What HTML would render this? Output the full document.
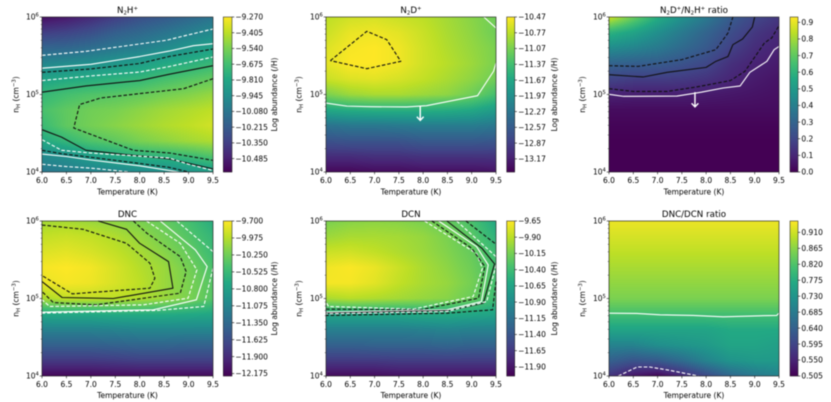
<!DOCTYPE html>
<html lang="en">
<head>
<meta charset="utf-8">
<title>Abundance maps</title>
<style>
html,body{margin:0;padding:0;background:#fff;width:831px;height:402px;overflow:hidden}
#figure{position:absolute;left:0;top:0;width:831px;height:402px;filter:blur(0.4px)}
canvas{position:absolute;display:block}
svg{position:absolute;left:0;top:0}
text{font-family:"DejaVu Sans","Liberation Sans",sans-serif;fill:#000}
.ttl{font-size:8.7px;text-anchor:middle}
.axl{font-size:7.5px;text-anchor:middle}
.sub{font-size:5.4px}
</style>
</head>
<body>
<div id="figure">
<canvas id="map-n2hp" width="171" height="155" style="left:42px;top:17px"></canvas>
<canvas id="map-n2dp" width="170" height="155" style="left:326px;top:17px"></canvas>
<canvas id="map-n2ratio" width="170" height="155" style="left:609px;top:17px"></canvas>
<canvas id="map-dnc" width="171" height="155" style="left:42px;top:221px"></canvas>
<canvas id="map-dcn" width="170" height="155" style="left:326px;top:221px"></canvas>
<canvas id="map-dratio" width="170" height="155" style="left:609px;top:221px"></canvas>
<svg id="overlay" width="831" height="402" viewBox="0 0 831 402" xmlns="http://www.w3.org/2000/svg">
  <text class="ttl" x="127.5" y="13">N<tspan class="sub" dy="1.6">2</tspan><tspan dy="-1.6">H</tspan><tspan class="sub" dy="-3">+</tspan></text>
  <text class="ttl" x="411" y="13">N<tspan class="sub" dy="1.6">2</tspan><tspan dy="-1.6">D</tspan><tspan class="sub" dy="-3">+</tspan></text>
  <text class="ttl" x="694" y="13">N<tspan class="sub" dy="1.6">2</tspan><tspan dy="-1.6">D</tspan><tspan class="sub" dy="-3">+</tspan><tspan dy="3">/N</tspan><tspan class="sub" dy="1.6">2</tspan><tspan dy="-1.6">H</tspan><tspan class="sub" dy="-3">+</tspan><tspan dy="3"> ratio</tspan></text>
  <text class="ttl" x="127.5" y="217">DNC</text>
  <text class="ttl" x="411" y="217">DCN</text>
  <text class="ttl" x="694" y="217">DNC/DCN ratio</text>

  <text class="axl" x="127.5" y="194.5">Temperature (K)</text>
  <text class="axl" x="411" y="194.5">Temperature (K)</text>
  <text class="axl" x="694" y="194.5">Temperature (K)</text>
  <text class="axl" x="127.5" y="398">Temperature (K)</text>
  <text class="axl" x="411" y="398">Temperature (K)</text>
  <text class="axl" x="694" y="398">Temperature (K)</text>

  <text class="axl" transform="translate(18.5 94.5) rotate(-90)">n<tspan class="sub" dy="1.5">H</tspan><tspan dy="-1.5"> (cm</tspan><tspan class="sub" dy="-2.8">−3</tspan><tspan dy="2.8">)</tspan></text>
  <text class="axl" transform="translate(301.5 94.5) rotate(-90)">n<tspan class="sub" dy="1.5">H</tspan><tspan dy="-1.5"> (cm</tspan><tspan class="sub" dy="-2.8">−3</tspan><tspan dy="2.8">)</tspan></text>
  <text class="axl" transform="translate(585 94.5) rotate(-90)">n<tspan class="sub" dy="1.5">H</tspan><tspan dy="-1.5"> (cm</tspan><tspan class="sub" dy="-2.8">−3</tspan><tspan dy="2.8">)</tspan></text>
  <text class="axl" transform="translate(18.5 298.5) rotate(-90)">n<tspan class="sub" dy="1.5">H</tspan><tspan dy="-1.5"> (cm</tspan><tspan class="sub" dy="-2.8">−3</tspan><tspan dy="2.8">)</tspan></text>
  <text class="axl" transform="translate(301.5 298.5) rotate(-90)">n<tspan class="sub" dy="1.5">H</tspan><tspan dy="-1.5"> (cm</tspan><tspan class="sub" dy="-2.8">−3</tspan><tspan dy="2.8">)</tspan></text>
  <text class="axl" transform="translate(585 298.5) rotate(-90)">n<tspan class="sub" dy="1.5">H</tspan><tspan dy="-1.5"> (cm</tspan><tspan class="sub" dy="-2.8">−3</tspan><tspan dy="2.8">)</tspan></text>

  <text class="axl" transform="translate(277 94.5) rotate(-90)">Log abundance (/H)</text>
  <text class="axl" transform="translate(557 94.5) rotate(-90)">Log abundance (/H)</text>
  <text class="axl" transform="translate(277 298.5) rotate(-90)">Log abundance (/H)</text>
  <text class="axl" transform="translate(557 298.5) rotate(-90)">Log abundance (/H)</text>
</svg>
</div>
<script>
// ---- shared axis data ----
const temperatureGrid = [6, 6.5, 7, 7.5, 8, 8.5, 9, 9.5];
const logDensityGrid = [6, 5.8, 5.6, 5.4, 5.2, 5, 4.8, 4.6, 4.4, 4.2, 4];
const xTickValues = [6, 6.5, 7, 7.5, 8, 8.5, 9, 9.5];
const xTickLabels = ['6.0', '6.5', '7.0', '7.5', '8.0', '8.5', '9.0', '9.5'];
const yTickDecades = [4, 5, 6];

// ---- N2H+ ----
const n2hpRange = [-10.6, -9.27];
const n2hpCbarTicks = [-9.27, -9.405, -9.54, -9.675, -9.81, -9.945, -10.08, -10.215, -10.35, -10.485];
const n2hpValues = [
  [-10.55, -10.51, -10.44, -10.36, -10.28, -10.23, -10.16, -10.09],
  [-10.36, -10.33, -10.28, -10.20, -10.15, -10.09, -10.03, -9.97],
  [-10.17, -10.16, -10.12, -10.07, -10.03, -9.97, -9.90, -9.84],
  [-9.99, -9.96, -9.94, -9.90, -9.86, -9.80, -9.76, -9.71],
  [-9.83, -9.80, -9.78, -9.75, -9.72, -9.67, -9.63, -9.59],
  [-9.72, -9.67, -9.64, -9.62, -9.59, -9.55, -9.52, -9.48],
  [-9.66, -9.60, -9.56, -9.54, -9.50, -9.46, -9.43, -9.40],
  [-9.70, -9.60, -9.55, -9.51, -9.47, -9.43, -9.40, -9.36],
  [-9.80, -9.72, -9.64, -9.60, -9.54, -9.50, -9.46, -9.43],
  [-9.97, -9.94, -9.86, -9.80, -9.76, -9.74, -9.70, -9.64],
  [-10.07, -10.04, -10.01, -9.99, -9.96, -9.94, -9.91, -9.87]
];
const n2hpLineA = [[6, 5.505], [6.9, 5.557], [8.55, 5.7], [9, 5.77], [9.5, 5.845]];
const n2hpLineB = [[6, 5.34], [7, 5.39], [8, 5.49], [8.6, 5.56], [9.1, 5.63], [9.5, 5.656]];
const n2hpLineC = [[6, 5.286], [7, 5.33], [8, 5.4], [8.6, 5.49], [9.5, 5.587]];
const n2hpLineD = [[6, 5.18], [7, 5.24], [8, 5.29], [8.6, 5.36], [9.5, 5.484]];
const n2hpLineE = [[6, 5.03], [6.9, 5.11], [8, 5.18], [8.6, 5.26], [9.5, 5.372]];
const n2hpLineF = [[9.5, 5.204], [8.9, 5.075], [7.2, 4.955], [6.77, 4.87], [6.65, 4.568], [7.87, 4.28], [8.62, 4.245], [9.5, 4.15]];
const n2hpLineG = [[6, 4.546], [6.4, 4.45], [6.9, 4.28], [7.8, 4.22], [8.6, 4.17], [9.5, 4.04]];
const n2hpLineH = [[6, 4.417], [6.4, 4.28], [7, 4.245], [8.6, 4.18], [9, 4.1], [9.5, 4.02]];
const n2hpLineI = [[6, 4.28], [6.4, 4.236], [7, 4.19], [8, 4.11], [8.6, 4.06], [9, 4]];
const n2hpLineJ = [[6, 4.232], [6.5, 4.2], [7, 4.155], [8, 4.08], [8.8, 4]];
const n2hpLineK = [[6, 4.1], [6.5, 4.07], [7, 4.05], [7.8, 4]];

// ---- N2D+ ----
const n2dpRange = [-13.42, -10.47];
const n2dpCbarTicks = [-10.47, -10.77, -11.07, -11.37, -11.67, -11.97, -12.27, -12.57, -12.87, -13.17];
const n2dpValues = [
  [-10.77, -10.68, -10.65, -10.71, -10.77, -10.88, -11.00, -11.12],
  [-10.71, -10.56, -10.53, -10.59, -10.71, -10.85, -10.97, -11.12],
  [-10.62, -10.50, -10.47, -10.53, -10.68, -10.82, -10.94, -11.06],
  [-10.59, -10.47, -10.47, -10.53, -10.68, -10.79, -10.91, -11.06],
  [-10.71, -10.62, -10.59, -10.65, -10.74, -10.85, -10.97, -11.12],
  [-11.06, -10.91, -10.85, -10.85, -10.91, -10.97, -11.12, -11.36],
  [-11.65, -11.59, -11.56, -11.56, -11.56, -11.59, -11.65, -11.80],
  [-12.30, -12.24, -12.24, -12.21, -12.18, -12.18, -12.18, -12.24],
  [-12.68, -12.65, -12.65, -12.65, -12.59, -12.59, -12.59, -12.62],
  [-13.04, -13.04, -13.01, -13.01, -12.98, -12.98, -12.98, -12.98],
  [-13.36, -13.36, -13.33, -13.33, -13.30, -13.30, -13.30, -13.27]
];
const n2dpLineA = [[6.09, 5.437], [6.84, 5.815], [7.25, 5.708], [7.54, 5.428], [6.84, 5.333], [6.09, 5.437]];
const n2dpLineB = [[6, 4.89], [6.43, 4.85], [6.91, 4.843], [7.66, 4.839], [8.07, 4.856], [9.12, 4.985], [9.45, 5.3], [9.5, 5.406]];
const n2dpLineC = [[9.25, 6], [9.5, 5.858]];
const n2dpArrow = [[7.94, 4.847], [7.94, 4.667]];

// ---- N2D+/N2H+ ratio ----
const n2ratioRange = [0, 0.932];
const n2ratioCbarTicks = [0, 0.1, 0.2, 0.3, 0.4, 0.5, 0.6, 0.7, 0.8, 0.9];
const n2ratioValues = [
  [0.87, 0.72, 0.58, 0.47, 0.38, 0.27, 0.20, 0.15],
  [0.60, 0.54, 0.46, 0.38, 0.30, 0.22, 0.15, 0.11],
  [0.45, 0.42, 0.38, 0.32, 0.26, 0.18, 0.12, 0.09],
  [0.30, 0.28, 0.27, 0.24, 0.20, 0.13, 0.09, 0.07],
  [0.19, 0.17, 0.17, 0.16, 0.14, 0.10, 0.07, 0.05],
  [0.09, 0.08, 0.08, 0.08, 0.07, 0.06, 0.05, 0.04],
  [0.03, 0.03, 0.03, 0.03, 0.03, 0.03, 0.03, 0.03],
  [0.01, 0.01, 0.01, 0.01, 0.01, 0.01, 0.01, 0.01],
  [0, 0, 0, 0, 0, 0, 0, 0],
  [0, 0, 0, 0, 0, 0, 0, 0],
  [0, 0, 0, 0, 0, 0, 0, 0]
];
const n2ratioLineA = [[6, 5.002], [6.3, 4.976], [7.4, 4.98], [7.9, 5.03], [8.35, 5.084], [8.7, 5.11], [8.9, 5.286], [9.25, 5.428], [9.4, 5.578], [9.5, 5.62]];
const n2ratioLineB = [[6, 5.075], [6.5, 5.04], [7.2, 5.04], [7.8, 5.097], [8.5, 5.18], [8.8, 5.3], [9.2, 5.665], [9.35, 5.73], [9.5, 5.888]];
const n2ratioLineC = [[6, 5.256], [6.7, 5.226], [7.2, 5.286], [8, 5.35], [8.2, 5.428], [8.45, 5.49], [8.55, 5.643], [8.75, 5.716], [8.95, 5.87], [9, 6]];
const n2ratioLineD = [[6, 5.372], [6.6, 5.363], [7.5, 5.45], [8.2, 5.578], [8.45, 5.794], [8.55, 6]];
const n2ratioArrow = [[7.77, 5.03], [7.77, 4.84]];

// ---- DNC ----
const dncRange = [-12.215, -9.7];
const dncCbarTicks = [-9.7, -9.975, -10.25, -10.525, -10.8, -11.075, -11.35, -11.625, -11.9, -12.175];
const dncValues = [
  [-10.05, -10.03, -10.08, -10.13, -10.20, -10.30, -10.45, -10.66],
  [-9.93, -9.90, -9.93, -10.00, -10.10, -10.23, -10.38, -10.56],
  [-9.83, -9.80, -9.85, -9.93, -10.03, -10.15, -10.30, -10.51],
  [-9.73, -9.70, -9.74, -9.85, -9.98, -10.08, -10.23, -10.43],
  [-9.78, -9.73, -9.76, -9.85, -9.95, -10.08, -10.20, -10.38],
  [-10.03, -9.93, -9.93, -9.95, -10.00, -10.08, -10.20, -10.38],
  [-10.71, -10.69, -10.69, -10.66, -10.66, -10.66, -10.69, -10.71],
  [-11.11, -11.11, -11.11, -11.09, -11.06, -11.06, -11.06, -11.06],
  [-11.44, -11.44, -11.44, -11.42, -11.39, -11.39, -11.42, -11.42],
  [-11.79, -11.79, -11.79, -11.77, -11.74, -11.74, -11.74, -11.74],
  [-12.17, -12.17, -12.17, -12.15, -12.15, -12.15, -12.15, -12.15]
];
const dncLineA = [[6, 5.948], [6.84, 5.893], [7.73, 5.712], [8.21, 5.455], [8.31, 5.262], [8.21, 5.133], [6.62, 5.06], [6, 5.296]];
const dncLineB = [[7.15, 6], [7.73, 5.893], [8, 5.712], [8.59, 5.476], [8.68, 5.133], [7.46, 5], [6.41, 5.013], [6, 5.219]];
const dncLineC = [[7.87, 6], [8.15, 5.841], [8.83, 5.54], [8.95, 5.348], [8.83, 5.069], [7.1, 4.918], [6.23, 4.948], [6, 5.09]];
const dncLineD = [[8.14, 6], [8.83, 5.712], [9.17, 5.369], [8.99, 5.004], [8.07, 4.918], [6.16, 4.897], [6, 4.983]];
const dncLineE = [[8.42, 6], [9.14, 5.627], [9.38, 5.412], [9.16, 4.983], [8.28, 4.854], [6, 4.824]];
const dncLineF = [[8.76, 6], [9.5, 5.605]];
const dncLineG = [[9.5, 5.39], [9.31, 4.897], [8.35, 4.846], [6, 4.811]];

// ---- DCN ----
const dcnRange = [-12.04, -9.65];
const dcnCbarTicks = [-9.65, -9.9, -10.15, -10.4, -10.65, -10.9, -11.15, -11.4, -11.65, -11.9];
const dcnValues = [
  [-10.13, -10.08, -10.06, -10.08, -10.13, -10.22, -10.34, -10.61],
  [-10.01, -9.96, -9.96, -9.98, -10.03, -10.13, -10.27, -10.51],
  [-9.84, -9.82, -9.87, -9.94, -10.01, -10.10, -10.22, -10.41],
  [-9.70, -9.66, -9.72, -9.84, -9.96, -10.06, -10.18, -10.37],
  [-9.68, -9.68, -9.75, -9.87, -9.96, -10.03, -10.15, -10.37],
  [-9.96, -9.91, -9.94, -9.98, -10.03, -10.08, -10.20, -10.41],
  [-10.61, -10.61, -10.61, -10.61, -10.58, -10.58, -10.61, -10.65],
  [-11.01, -11.01, -11.01, -11.01, -10.99, -10.96, -10.99, -10.99],
  [-11.30, -11.30, -11.28, -11.28, -11.28, -11.25, -11.28, -11.28],
  [-11.63, -11.63, -11.63, -11.61, -11.61, -11.61, -11.61, -11.61],
  [-11.97, -11.97, -11.97, -11.94, -11.94, -11.94, -11.94, -11.94]
];
const dcnLineA = [[8.03, 6], [9.1, 5.58], [9.22, 5.39], [9.03, 5.026], [7.8, 4.863], [6.05, 4.897], [6, 4.961]];
const dcnLineB = [[8.18, 6], [9, 5.648], [9.27, 5.412], [9.14, 5.004], [7.94, 4.854], [6, 4.863]];
const dcnLineC = [[8.32, 6], [9.1, 5.67], [9.34, 5.433], [9.2, 4.961], [8.49, 4.854], [6, 4.824]];
const dcnLineD = [[8.49, 6], [9.21, 5.648], [9.47, 5.446], [9.24, 4.94], [8.55, 4.845], [6, 4.811]];
const dcnLineE = [[8.69, 6], [9.5, 5.54]];
const dcnLineF = [[9.5, 5.433], [9.31, 4.961], [8.49, 4.833], [6, 4.803]];
const dcnLineG = [[8.88, 6], [9.5, 5.7]];
const dcnLineH = [[9.5, 5.219], [9.43, 4.854], [8.49, 4.811], [6, 4.781]];

// ---- DNC/DCN ratio ----
const dratioRange = [0.505, 0.942];
const dratioCbarTicks = [0.505, 0.55, 0.595, 0.64, 0.685, 0.73, 0.775, 0.82, 0.865, 0.91];
const dratioValues = [
  [0.93, 0.93, 0.93, 0.93, 0.93, 0.93, 0.93, 0.93],
  [0.915, 0.915, 0.915, 0.915, 0.915, 0.915, 0.915, 0.915],
  [0.90, 0.90, 0.90, 0.90, 0.90, 0.90, 0.90, 0.90],
  [0.885, 0.885, 0.885, 0.885, 0.885, 0.885, 0.885, 0.885],
  [0.87, 0.87, 0.87, 0.87, 0.87, 0.87, 0.87, 0.87],
  [0.855, 0.855, 0.855, 0.855, 0.855, 0.855, 0.855, 0.855],
  [0.81, 0.81, 0.81, 0.81, 0.81, 0.81, 0.81, 0.81],
  [0.76, 0.76, 0.76, 0.76, 0.76, 0.77, 0.77, 0.77],
  [0.70, 0.70, 0.72, 0.73, 0.74, 0.76, 0.76, 0.75],
  [0.64, 0.62, 0.63, 0.66, 0.70, 0.73, 0.74, 0.74],
  [0.57, 0.53, 0.51, 0.55, 0.60, 0.65, 0.68, 0.70]
];
const dratioLineA = [[6, 4.811], [6.57, 4.807], [7.05, 4.79], [7.73, 4.781], [8.35, 4.764], [9.1, 4.777], [9.45, 4.781], [9.5, 4.811]];
const dratioLineB = [[6.19, 4], [6.58, 4.116], [6.84, 4.116], [7.25, 4.073], [7.84, 4]];

// ---- viridis colormap ----
const viridisStops = [[68,1,84],[72,36,117],[65,68,135],[53,95,141],[42,120,142],[33,145,140],[34,168,132],[68,191,112],[122,209,81],[189,223,38],[253,231,37]];
function viridis(f) {
  const c = Math.max(0, Math.min(1, f)) * (viridisStops.length - 1);
  const i = Math.min(viridisStops.length - 2, Math.floor(c));
  const t = c - i;
  return viridisStops[i].map(function (v, k) { return Math.round(v + (viridisStops[i + 1][k] - v) * t); });
}

const SVGNS = 'http://www.w3.org/2000/svg';
const overlay = document.getElementById('overlay');
function mk(tag, attrs, parent) {
  const el = document.createElementNS(SVGNS, tag);
  for (const k in attrs) el.setAttribute(k, attrs[k]);
  (parent || overlay).appendChild(el);
  return el;
}

function makeAxes(box, range) {
  return {
    box: box,
    x: function (T) { return box.x + (T - 6) / 3.5 * box.w; },
    y: function (logn) { return box.y + (6 - logn) / 2 * box.h; },
    t: function (px) { return 6 + (px - box.x) / box.w * 3.5; },
    n: function (py) { return 6 - (py - box.y) / box.h * 2; },
    c: function (v) { return (v - range[0]) / (range[1] - range[0]); },
    cy: function (v) { return box.y + box.h * (1 - (v - range[0]) / (range[1] - range[0])); }
  };
}

function sampleGrid(values, T, logn) {
  const step = temperatureGrid[1] - temperatureGrid[0];
  const rowStep = logDensityGrid[0] - logDensityGrid[1];
  let a = (T - temperatureGrid[0]) / step;
  let b = (logDensityGrid[0] - logn) / rowStep;
  a = Math.max(0, Math.min(temperatureGrid.length - 1.0001, a));
  b = Math.max(0, Math.min(logDensityGrid.length - 1.0001, b));
  const i = Math.floor(a), j = Math.floor(b), u = a - i, v = b - j;
  return values[j][i] * (1 - u) * (1 - v) + values[j][i + 1] * u * (1 - v) +
         values[j + 1][i] * (1 - u) * v + values[j + 1][i + 1] * u * v;
}

function drawHeatmap(canvasId, axes, values) {
  const cv = document.getElementById(canvasId);
  const ctx = cv.getContext('2d');
  const img = ctx.createImageData(cv.width, cv.height);
  for (let py = 0; py < cv.height; py++) {
    for (let px = 0; px < cv.width; px++) {
      const T = axes.t(axes.box.x + px + 0.5);
      const n = axes.n(axes.box.y + py + 0.5);
      const col = viridis(axes.c(sampleGrid(values, T, n)));
      const o = (py * cv.width + px) * 4;
      img.data[o] = col[0];
      img.data[o + 1] = col[1];
      img.data[o + 2] = col[2];
      img.data[o + 3] = 255;
    }
  }
  ctx.putImageData(img, 0, 0);
}

function drawAxes(prefix, axes) {
  const b = axes.box;
  xTickValues.forEach(function (v, i) {
    const px = axes.x(v);
    const tick = mk('line', { x1: px, x2: px, y1: b.y + b.h, y2: b.y + b.h + 2.3, stroke: '#111', 'stroke-width': 0.6 });
    
    
    const lab = mk('text', { x: px, y: b.y + b.h + 10.8, 'font-size': 7.5, 'text-anchor': 'middle' });
    lab.textContent = xTickLabels[i];
    
    
  });
  yTickDecades.forEach(function (d) {
    const py = axes.y(d);
    const tick = mk('line', { x1: b.x - 2.3, x2: b.x, y1: py, y2: py, stroke: '#111', 'stroke-width': 0.6 });
    
    
    const lab = mk('text', { x: b.x - 3.2, y: py + 2.7, 'font-size': 7.5, 'text-anchor': 'end' });
    const base = mk('tspan', {}, lab);
    base.textContent = '10';
    const sup = mk('tspan', { 'font-size': 5.2, dy: -3 }, lab);
    sup.textContent = String(d);
    
    
    if (d < 6) {
      for (let m = 2; m < 10; m++) {
        const my = axes.y(d + Math.log10(m));
        const minor = mk('line', { x1: b.x - 1.3, x2: b.x, y1: my, y2: my, stroke: '#111', 'stroke-width': 0.4 });
        
        
      }
    }
  });
}

function drawFrame(prefix, axes) {
  const b = axes.box;
  const frame = mk('rect', { x: b.x, y: b.y, width: b.w, height: b.h, fill: 'none', stroke: '#111', 'stroke-width': 0.6 });
  
  
}

function drawContour(prefix, axes, pts, color, dashed) {
  const d = pts.map(function (p) { return axes.x(p[0]).toFixed(2) + ',' + axes.y(p[1]).toFixed(2); }).join(' ');
  const line = mk('polyline', { points: d, fill: 'none', stroke: color, 'stroke-width': 1.1, 'stroke-linejoin': 'round' });
  if (dashed) line.setAttribute('stroke-dasharray', '3.6 1.9');
  
  
}

function drawArrow(prefix, axes, pts) {
  const x1 = axes.x(pts[0][0]), y1 = axes.y(pts[0][1]);
  const x2 = axes.x(pts[1][0]), y2 = axes.y(pts[1][1]);
  const d = 'M' + x1 + ' ' + y1 + 'L' + x2 + ' ' + y2 + 'M' + (x2 - 3.4) + ' ' + (y2 - 3.6) + 'L' + x2 + ' ' + y2 + 'L' + (x2 + 3.4) + ' ' + (y2 - 3.6);
  const arrow = mk('path', { d: d, fill: 'none', stroke: '#fff', 'stroke-width': 1.4 });
  
  
}

function drawColorbar(prefix, axes, cx, cw, ticks, digits) {
  const b = axes.box;
  for (let i = 0; i < b.h; i++) {
    const col = viridis(1 - (i + 0.5) / b.h);
    const s = mk('rect', { x: cx, y: b.y + i, width: cw, height: 1.15, fill: 'rgb(' + col.join(',') + ')' });
    
    
  }
  const frame = mk('rect', { x: cx, y: b.y, width: cw, height: b.h, fill: 'none', stroke: '#222', 'stroke-width': 0.55 });
  
  
  ticks.forEach(function (v) {
    const py = axes.cy(v);
    const tick = mk('line', { x1: cx + cw, x2: cx + cw + 2.3, y1: py, y2: py, stroke: '#111', 'stroke-width': 0.6 });
    
    
    const lab = mk('text', { x: cx + cw + 3.4, y: py + 2.7, 'font-size': 7.5 });
    lab.textContent = v.toFixed(digits).replace('-', '\u2212');
    
    
  });
}

const axN2hp = makeAxes({ x: 42, y: 17, w: 171, h: 155 }, n2hpRange);
const axN2dp = makeAxes({ x: 326, y: 17, w: 170, h: 155 }, n2dpRange);
const axN2ratio = makeAxes({ x: 609, y: 17, w: 170, h: 155 }, n2ratioRange);
const axDnc = makeAxes({ x: 42, y: 221, w: 171, h: 155 }, dncRange);
const axDcn = makeAxes({ x: 326, y: 221, w: 170, h: 155 }, dcnRange);
const axDratio = makeAxes({ x: 609, y: 221, w: 170, h: 155 }, dratioRange);

drawHeatmap('map-n2hp', axN2hp, n2hpValues);
drawHeatmap('map-n2dp', axN2dp, n2dpValues);
drawHeatmap('map-n2ratio', axN2ratio, n2ratioValues);
drawHeatmap('map-dnc', axDnc, dncValues);
drawHeatmap('map-dcn', axDcn, dcnValues);
drawHeatmap('map-dratio', axDratio, dratioValues);

// N2H+ contours
drawContour('n2hp', axN2hp, n2hpLineA, '#fff', true);
drawContour('n2hp', axN2hp, n2hpLineB, '#fff', false);
drawContour('n2hp', axN2hp, n2hpLineC, '#111', true);
drawContour('n2hp', axN2hp, n2hpLineD, '#fff', true);
drawContour('n2hp', axN2hp, n2hpLineE, '#111', false);
drawContour('n2hp', axN2hp, n2hpLineF, '#111', true);
drawContour('n2hp', axN2hp, n2hpLineG, '#111', false);
drawContour('n2hp', axN2hp, n2hpLineH, '#fff', true);
drawContour('n2hp', axN2hp, n2hpLineI, '#111', true);
drawContour('n2hp', axN2hp, n2hpLineJ, '#fff', false);
drawContour('n2hp', axN2hp, n2hpLineK, '#fff', true);
// N2D+ contours
drawContour('n2dp', axN2dp, n2dpLineA, '#111', true);
drawContour('n2dp', axN2dp, n2dpLineB, '#fff', false);
drawContour('n2dp', axN2dp, n2dpLineC, '#fff', false);
drawArrow('n2dp', axN2dp, n2dpArrow);
// N2D+/N2H+ contours
drawContour('n2-ratio', axN2ratio, n2ratioLineA, '#fff', false);
drawContour('n2-ratio', axN2ratio, n2ratioLineB, '#111', true);
drawContour('n2-ratio', axN2ratio, n2ratioLineC, '#111', false);
drawContour('n2-ratio', axN2ratio, n2ratioLineD, '#111', true);
drawArrow('n2-ratio', axN2ratio, n2ratioArrow);
// DNC contours
drawContour('dnc', axDnc, dncLineA, '#111', true);
drawContour('dnc', axDnc, dncLineB, '#111', false);
drawContour('dnc', axDnc, dncLineC, '#111', true);
drawContour('dnc', axDnc, dncLineD, '#fff', true);
drawContour('dnc', axDnc, dncLineE, '#fff', false);
drawContour('dnc', axDnc, dncLineF, '#fff', true);
drawContour('dnc', axDnc, dncLineG, '#fff', true);
// DCN contours
drawContour('dcn', axDcn, dcnLineA, '#fff', true);
drawContour('dcn', axDcn, dcnLineB, '#111', true);
drawContour('dcn', axDcn, dcnLineC, '#fff', false);
drawContour('dcn', axDcn, dcnLineD, '#111', false);
drawContour('dcn', axDcn, dcnLineE, '#fff', true);
drawContour('dcn', axDcn, dcnLineF, '#fff', true);
drawContour('dcn', axDcn, dcnLineG, '#111', true);
drawContour('dcn', axDcn, dcnLineH, '#111', true);
// DNC/DCN contours
drawContour('dnc-dcn-ratio', axDratio, dratioLineA, '#fff', false);
drawContour('dnc-dcn-ratio', axDratio, dratioLineB, '#fff', true);

drawFrame('n2hp', axN2hp);
drawFrame('n2dp', axN2dp);
drawFrame('n2-ratio', axN2ratio);
drawFrame('dnc', axDnc);
drawFrame('dcn', axDcn);
drawFrame('dnc-dcn-ratio', axDratio);

drawAxes('n2hp', axN2hp);
drawAxes('n2dp', axN2dp);
drawAxes('n2-ratio', axN2ratio);
drawAxes('dnc', axDnc);
drawAxes('dcn', axDcn);
drawAxes('dnc-dcn-ratio', axDratio);

drawColorbar('n2hp', axN2hp, 223.3, 8.7, n2hpCbarTicks, 3);
drawColorbar('n2dp', axN2dp, 506.7, 8, n2dpCbarTicks, 2);
drawColorbar('n2-ratio', axN2ratio, 790, 8, n2ratioCbarTicks, 1);
drawColorbar('dnc', axDnc, 223.3, 8.7, dncCbarTicks, 3);
drawColorbar('dcn', axDcn, 506.7, 8, dcnCbarTicks, 2);
drawColorbar('dnc-dcn-ratio', axDratio, 790, 8, dratioCbarTicks, 3);
</script>
</body>
</html>
